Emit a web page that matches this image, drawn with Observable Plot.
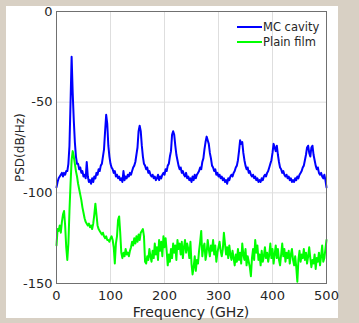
<!DOCTYPE html>
<html>
<head>
<meta charset="utf-8">
<script src="https://cdn.jsdelivr.net/npm/d3@7"></script>
<script src="https://cdn.jsdelivr.net/npm/@observablehq/plot@0.6"></script>
<style>
  html, body { margin: 0; padding: 0; }
  body { width: 359px; height: 323px; background: #d8d0c4; position: relative; overflow: hidden; font-family: "DejaVu Sans", sans-serif; }
  #panel { position: absolute; left: 6px; top: 6px; width: 332px; height: 312px; background: #ffffff; }
  #panel svg { overflow: visible; }
  .lbl { position: absolute; color: #262626; white-space: nowrap; }
  #xlabel { text-align: center; top: 297px; font-size: 14px; line-height: 18px; left: 50px; width: 270px; }
  #ylabel { font-size: 12px; line-height: 14px; left: 7px; top: 142px; transform-origin: 0 0; }
  #legend { position: absolute; left: 231px; top: 13px; font-size: 11.5px; color: #262626; }
  #legend .row { display: flex; align-items: center; height: 15px; }
  #legend .sw { width: 25px; height: 2px; margin-right: 1px; }
</style>
</head>
<body>
<div id="panel"></div>
<script>
// Frequency grid (GHz), 2 GHz sampling from 0 to 500
const freq = d3.range(0, 501, 2);

// MC cavity PSD (dB/Hz), rows of 10 samples = 20 GHz each
const mcCavity = [
  -97,-94,-92,-91,-90,-89,-91,-89,-90,-88,   // 0-18
  -88,-84,-74,-50,-25,-45,-60,-72,-80,-84,   // 20-38
  -84,-87,-86,-89,-88,-91,-90,-92,-83,-91,   // 40-58
  -94,-93,-95,-92,-94,-91,-92,-89,-90,-87,   // 60-78
  -88,-85,-84,-80,-76,-66,-57,-62,-74,-80,   // 80-98
  -84,-86,-87,-89,-88,-91,-90,-92,-91,-93,   // 100-118
  -92,-94,-88,-93,-91,-92,-90,-91,-89,-90,   // 120-138
  -88,-86,-85,-83,-79,-75,-66,-63,-66,-74,   // 140-158
  -80,-84,-85,-87,-86,-89,-88,-90,-91,-90,   // 160-178
  -92,-91,-93,-92,-90,-93,-91,-92,-90,-89,   // 180-198
  -90,-87,-88,-85,-84,-80,-77,-68,-66,-68,   // 200-218
  -74,-79,-82,-85,-87,-86,-89,-88,-90,-91,   // 220-238
  -89,-92,-91,-93,-92,-94,-91,-93,-90,-92,   // 240-258
  -90,-89,-88,-86,-87,-83,-81,-76,-72,-69,   // 260-278
  -71,-73,-78,-81,-85,-86,-88,-87,-90,-89,   // 280-298
  -91,-90,-92,-91,-93,-92,-94,-93,-95,-92,   // 300-318
  -93,-91,-90,-91,-89,-88,-86,-85,-82,-77,   // 320-338
  -71,-73,-72,-78,-82,-85,-87,-86,-89,-88,   // 340-358
  -90,-91,-90,-92,-91,-93,-92,-94,-93,-94,   // 360-378
  -92,-93,-91,-90,-91,-89,-88,-86,-84,-82,   // 380-398
  -78,-73,-75,-77,-74,-79,-83,-86,-87,-89,   // 400-418
  -88,-90,-91,-90,-92,-91,-93,-92,-94,-93,   // 420-438
  -94,-92,-93,-91,-92,-90,-89,-88,-86,-85,   // 440-458
  -82,-79,-75,-74,-78,-80,-75,-74,-79,-82,   // 460-478
  -85,-87,-86,-89,-90,-89,-91,-92,-90,-93,   // 480-498
  -97                                        // 500
];

// Plain film PSD (dB/Hz)
const plainFilm = [
  -129,-120,-121,-118,-122,-116,-112,-110,-118,-130,   // 0-18
  -137,-128,-110,-95,-82,-77,-80,-84,-88,-91,          // 20-38
  -95,-98,-101,-104,-108,-111,-114,-116,-117,-118,     // 40-58
  -117,-119,-118,-120,-117,-112,-106,-112,-118,-120,   // 60-78
  -121,-122,-123,-122,-124,-125,-124,-126,-126,-127,   // 80-98
  -125,-124,-126,-130,-139,-128,-124,-115,-113,-122,   // 100-118
  -133,-136,-133,-135,-131,-134,-133,-135,-132,-130,   // 120-138
  -127,-129,-125,-128,-124,-127,-123,-126,-122,-121,   // 140-158
  -120,-124,-138,-139,-135,-137,-131,-135,-138,-132,   // 160-178
  -136,-128,-134,-130,-137,-126,-132,-127,-135,-124,   // 180-198
  -130,-125,-132,-140,-134,-138,-131,-136,-128,-133,   // 200-218
  -129,-137,-126,-131,-128,-134,-127,-136,-130,-126,   // 220-238
  -133,-128,-131,-136,-127,-139,-145,-141,-135,-143,   // 240-258
  -137,-139,-132,-127,-121,-135,-130,-128,-137,-133,   // 260-278
  -126,-131,-135,-129,-132,-126,-134,-129,-138,-133,   // 280-298
  -130,-127,-132,-135,-131,-122,-128,-134,-130,-136,   // 300-318
  -129,-134,-137,-132,-136,-140,-134,-138,-131,-137,   // 320-338
  -133,-139,-128,-134,-137,-131,-140,-135,-138,-141,   // 340-358
  -146,-136,-131,-137,-126,-133,-129,-137,-134,-140,   // 360-378
  -132,-138,-135,-130,-136,-133,-138,-134,-128,-136,   // 380-398
  -131,-139,-134,-129,-136,-131,-137,-140,-134,-128,   // 400-418
  -135,-131,-138,-133,-136,-132,-139,-134,-131,-137,   // 420-438
  -140,-135,-141,-149,-137,-132,-138,-134,-136,-131,   // 440-458
  -137,-133,-139,-135,-130,-136,-141,-137,-139,-134,   // 460-478
  -142,-136,-138,-133,-140,-135,-129,-138,-136,-131,   // 480-498
  -126                                                 // 500
];

const xTicks = [0, 100, 200, 300, 400, 500];
const yTicks = [-150, -100, -50, 0];
const seriesNames = ["MC cavity", "Plain film"];
const seriesColors = ["#0000ff", "#00ff00"];

const data = freq.map((f, i) => ({f, mc: mcCavity[i], plain: plainFilm[i]}));

const chart = Plot.plot({
  width: 332,
  height: 312,
  marginLeft: 50,
  marginRight: 12,
  marginTop: 5,
  marginBottom: 35,
  style: {fontFamily: "DejaVu Sans, sans-serif", fontSize: "13px", color: "#262626", background: "transparent"},
  x: {domain: [0, 500], ticks: xTicks, label: null},
  y: {domain: [-150, 0], ticks: yTicks, label: null},
  marks: [
    Plot.gridX(xTicks.slice(1, -1), {stroke: "#dedede", strokeOpacity: 1}),
    Plot.gridY(yTicks.slice(1, -1), {stroke: "#dedede", strokeOpacity: 1}),
    Plot.lineY(data, {x: "f", y: "mc", stroke: seriesColors[0], strokeWidth: 2}),
    Plot.lineY(data, {x: "f", y: "plain", stroke: seriesColors[1], strokeWidth: 2}),
    Plot.frame({stroke: "#707070"}),
    Plot.axisX({ticks: xTicks, tickSize: 0, tickPadding: 7, tickFormat: d => String(d), label: null}),
    Plot.axisY({ticks: yTicks, tickSize: 0, tickPadding: 4, tickFormat: d => String(d), label: null})
  ]
});
document.getElementById("panel").appendChild(chart);

// axis titles
const panel = document.getElementById("panel");
const xl = document.createElement("div");
xl.className = "lbl"; xl.id = "xlabel"; xl.textContent = "Frequency (GHz)";
panel.appendChild(xl);
const yl = document.createElement("div");
yl.className = "lbl"; yl.id = "ylabel"; yl.textContent = "PSD(dB/Hz)";
panel.appendChild(yl);
const w = yl.getBoundingClientRect().width;
yl.style.top = (142 + w / 2) + "px";
yl.style.transform = "rotate(-90deg)";

// legend
const legend = document.createElement("div");
legend.id = "legend";
seriesNames.forEach((name, i) => {
  const row = document.createElement("div");
  row.className = "row";
  const sw = document.createElement("span");
  sw.className = "sw"; sw.style.background = seriesColors[i];
  const t = document.createElement("span");
  t.textContent = name;
  row.appendChild(sw); row.appendChild(t);
  legend.appendChild(row);
});
panel.appendChild(legend);
</script>
</body>
</html>
